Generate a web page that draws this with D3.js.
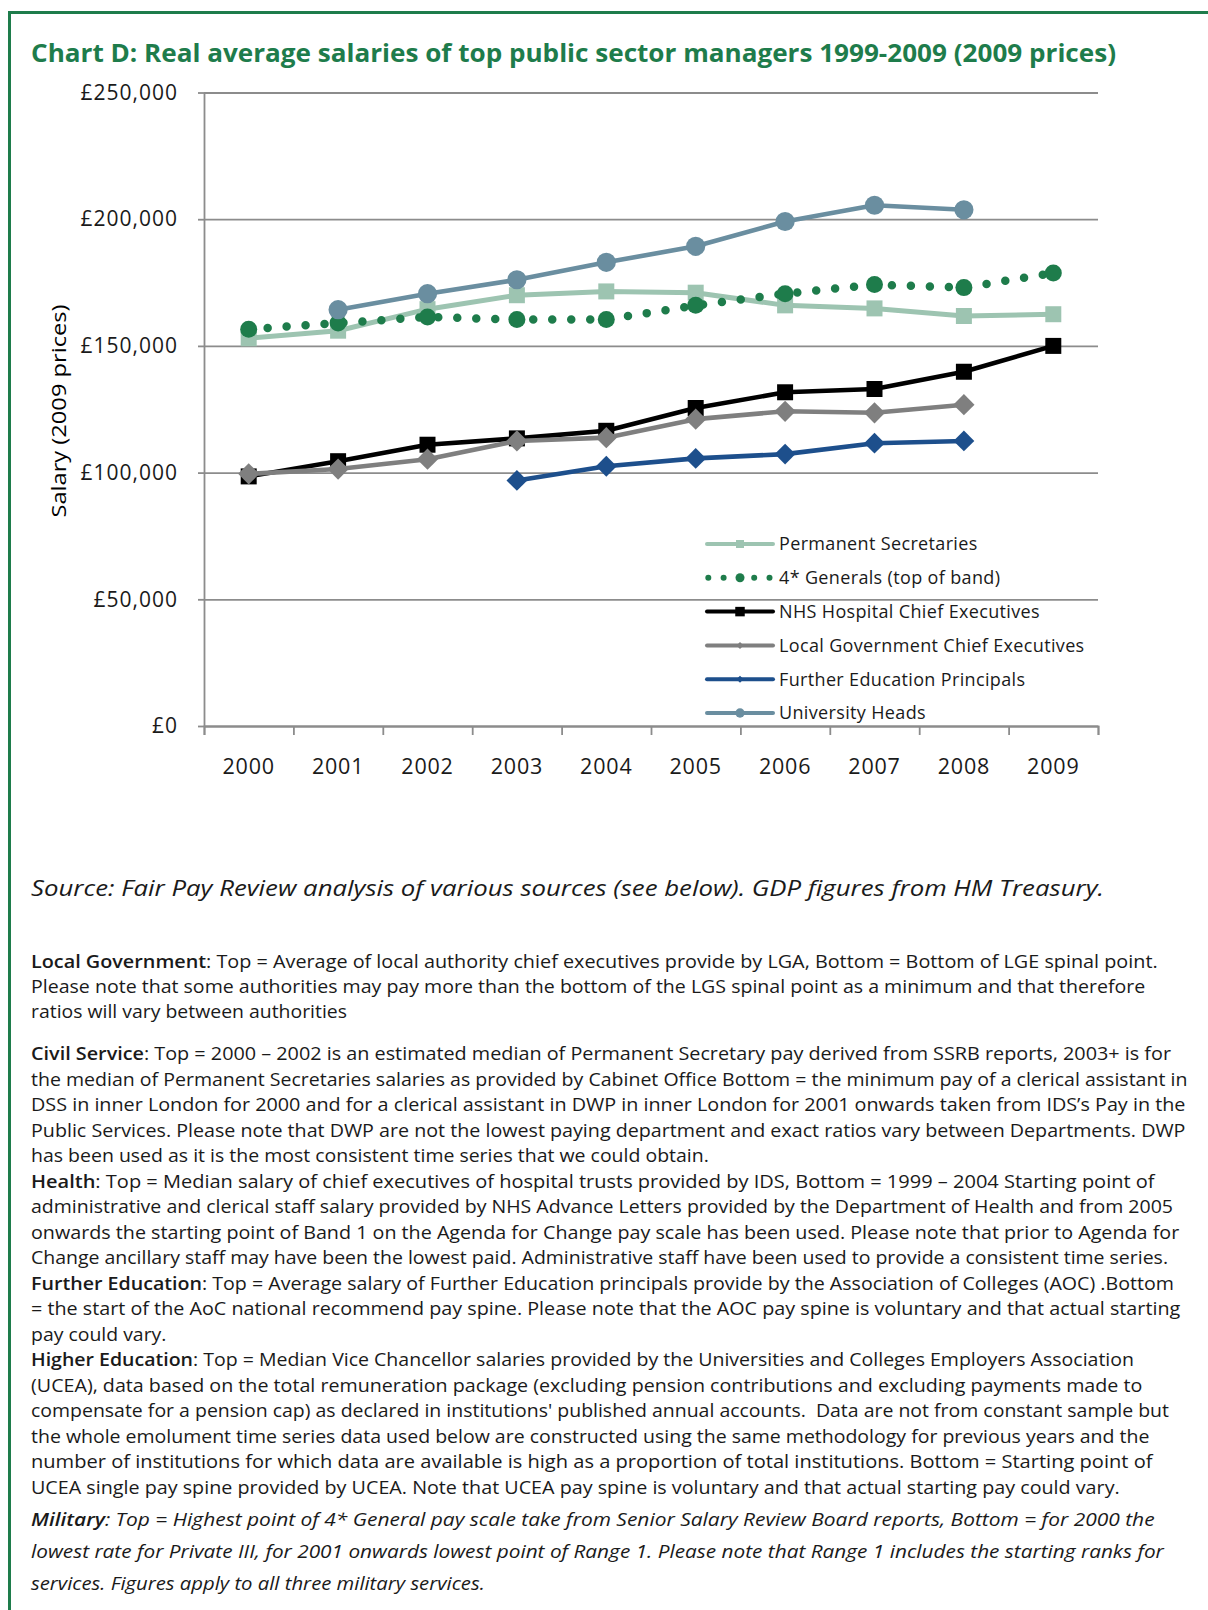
<!DOCTYPE html>
<html><head><meta charset="utf-8">
<script src="https://cdn.jsdelivr.net/npm/d3@7"></script>
<style>
html,body{margin:0;padding:0;background:#fff;}
svg{display:block;}
text{font-family:"Open Sans","Noto Sans",sans-serif;}
</style></head>
<body>
<svg id="c" width="1208" height="1610"></svg>
<script>
// ---------------- DATA ----------------
const years = [2000, 2001, 2002, 2003, 2004, 2005, 2006, 2007, 2008, 2009];
const yTicks = [0, 50000, 100000, 150000, 200000, 250000];
const seriesNames = ["Permanent Secretaries", "4* Generals (top of band)", "NHS Hospital Chief Executives",
  "Local Government Chief Executives", "Further Education Principals", "University Heads"];
const permanentSecretaries = [153000, 156000, 164500, 170000, 171500, 171000, 166000, 164800, 161800, 162500];
const generals4Star       = [156600, 159000, 161400, 160400, 160400, 166000, 170600, 174200, 173000, 178800];
const nhsChiefExecs       = [98500, 104500, 111000, 113500, 116500, 125500, 131700, 133000, 139800, 150000];
const localGovChiefExecs  = [99500, 101400, 105300, 112500, 113800, 121100, 124200, 123600, 126800, null];
const furtherEdPrincipals = [null, null, null, 96900, 102500, 105600, 107300, 111600, 112500, null];
const universityHeads     = [null, 164300, 170600, 176100, 183000, 189300, 199100, 205500, 203700, null];

const titleText = "Chart D: Real average salaries of top public sector managers 1999-2009 (2009 prices)";
const yTitleText = "Salary (2009 prices)";
const sourceText = "Source: Fair Pay Review analysis of various sources (see below). GDP figures from HM Treasury.";
const noteLines = [
  [["Local Government","b"],[": Top = Average of local authority chief executives provide by LGA, Bottom = Bottom of LGE spinal point.",""]],
  [["Please note that some authorities may pay more than the bottom of the LGS spinal point as a minimum and that therefore",""]],
  [["ratios will vary between authorities",""]],
  [["Civil Service","b"],[": Top = 2000 \u2013 2002 is an estimated median of Permanent Secretary pay derived from SSRB reports, 2003+ is for",""]],
  [["the median of Permanent Secretaries salaries as provided by Cabinet Office Bottom = the minimum pay of a clerical assistant in",""]],
  [["DSS in inner London for 2000 and for a clerical assistant in DWP in inner London for 2001 onwards taken from IDS\u2019s Pay in the",""]],
  [["Public Services. Please note that DWP are not the lowest paying department and exact ratios vary between Departments. DWP",""]],
  [["has been used as it is the most consistent time series that we could obtain.",""]],
  [["Health","b"],[": Top = Median salary of chief executives of hospital trusts provided by IDS, Bottom = 1999 \u2013 2004 Starting point of",""]],
  [["administrative and clerical staff salary provided by NHS Advance Letters provided by the Department of Health and from 2005",""]],
  [["onwards the starting point of Band 1 on the Agenda for Change pay scale has been used. Please note that prior to Agenda for",""]],
  [["Change ancillary staff may have been the lowest paid. Administrative staff have been used to provide a consistent time series.",""]],
  [["Further Education","b"],[": Top = Average salary of Further Education principals provide by the Association of Colleges (AOC) .Bottom",""]],
  [["= the start of the AoC national recommend pay spine. Please note that the AOC pay spine is voluntary and that actual starting",""]],
  [["pay could vary.",""]],
  [["Higher Education","b"],[": Top = Median Vice Chancellor salaries provided by the Universities and Colleges Employers Association",""]],
  [["(UCEA), data based on the total remuneration package (excluding pension contributions and excluding payments made to",""]],
  [["compensate for a pension cap) as declared in institutions' published annual accounts.  Data are not from constant sample but",""]],
  [["the whole emolument time series data used below are constructed using the same methodology for previous years and the",""]],
  [["number of institutions for which data are available is high as a proportion of total institutions. Bottom = Starting point of",""]],
  [["UCEA single pay spine provided by UCEA. Note that UCEA pay spine is voluntary and that actual starting pay could vary.",""]],
  [["Military","bi"],[": Top = Highest point of 4* General pay scale take from Senior Salary Review Board reports, Bottom = for 2000 the","i"]],
  [["lowest rate for Private III, for 2001 onwards lowest point of Range 1. Please note that Range 1 includes the starting ranks for","i"]],
  [["services. Figures apply to all three military services.","i"]]
];

// ---------------- LAYOUT / STYLE ----------------
const svg = d3.select("#c");
const green = "#1e7c4b";
const gridCol = "#8c8c8c";
const plot = {left: 204, right: 1098, top: 92.5, bottom: 726};

const seriesValues = [permanentSecretaries, generals4Star, nhsChiefExecs, localGovChiefExecs, furtherEdPrincipals, universityHeads];
const styles = [
  {color: "#9dc4b1", width: 5,   marker: "square",  size: 16, legSize: 8},
  {color: green,     width: 8.5, marker: "circle",  size: 8.5, legSize: 4.5, dotted: true},
  {color: "#000000", width: 4.6, marker: "square",  size: 16, legSize: 9.5},
  {color: "#7f7f7f", width: 4.6, marker: "diamond", size: 10.6, legSize: 3.5},
  {color: "#1d4f8c", width: 4.6, marker: "diamond", size: 10.4, legSize: 3.5},
  {color: "#6a8ea0", width: 4.6, marker: "circle",  size: 9.6, legSize: 4.7}
];
const series = seriesNames.map((n, i) => ({name: n, values: years.map((y, j) => ({year: y, v: seriesValues[i][j]})), st: styles[i]}));

// frame
svg.append("line").attr("x1", 9.5).attr("x2", 9.5).attr("y1", 11).attr("y2", 1610).attr("stroke", green).attr("stroke-width", 3);
svg.append("line").attr("x1", 8).attr("x2", 1208).attr("y1", 12.5).attr("y2", 12.5).attr("stroke", green).attr("stroke-width", 3);

// title
svg.append("text").attr("x", 31).attr("y", 61.5).attr("fill", green)
  .attr("font-size", 25).attr("font-weight", "bold")
  .attr("textLength", 1085).attr("lengthAdjust", "spacingAndGlyphs").text(titleText);

// scales
const x = d3.scaleBand().domain(years).range([plot.left, plot.right]).padding(0);
const xEdge = d3.scaleLinear().domain([0, years.length]).range([plot.left, plot.right]);
const y = d3.scaleLinear().domain([0, 250000]).range([plot.bottom, plot.top]);
const cx = yr => x(yr) + x.bandwidth() / 2;

// gridlines
const grid = svg.append("g").attr("transform", `translate(${plot.left},0)`)
  .call(d3.axisLeft(y).tickValues(yTicks).tickSize(-(plot.right - plot.left)).tickFormat(""));
grid.select(".domain").remove();
grid.selectAll("line").attr("stroke", gridCol).attr("stroke-width", 1.8);

// y axis
const yAx = svg.append("g").attr("transform", `translate(${plot.left},0)`)
  .call(d3.axisLeft(y).tickValues(yTicks).tickSizeInner(6).tickSizeOuter(0).tickPadding(20)
    .tickFormat(d => "\u00a3" + d3.format(",")(d)));
yAx.select(".domain").attr("stroke", gridCol).attr("stroke-width", 1.8);
yAx.selectAll("line").attr("stroke", gridCol).attr("stroke-width", 1.8);
yAx.selectAll("text").attr("font-size", 21).attr("fill", "#1a1a1a").attr("letter-spacing", "1px")
  .attr("font-family", "'Open Sans','Noto Sans',sans-serif");

// x axis ticks (at category boundaries)
const xTickAx = svg.append("g").attr("transform", `translate(0,${plot.bottom})`)
  .call(d3.axisBottom(xEdge).tickValues(d3.range(years.length + 1)).tickSize(9).tickFormat(""));
xTickAx.select(".domain").attr("stroke", gridCol).attr("stroke-width", 1.8);
xTickAx.selectAll("line").attr("stroke", gridCol).attr("stroke-width", 1.8);

// x labels
const xAx = svg.append("g").attr("transform", `translate(0,${plot.bottom})`)
  .call(d3.axisBottom(x).tickSize(0).tickPadding(33));
xAx.select(".domain").remove();
xAx.selectAll("text").attr("font-size", 21.5).attr("fill", "#1a1a1a").attr("letter-spacing", "0.8px")
  .attr("font-family", "'Open Sans','Noto Sans',sans-serif");

// y title
svg.append("text").attr("transform", "translate(59,411) rotate(-90)").attr("text-anchor", "middle")
  .attr("dy", "0.35em").attr("font-size", 20.5).attr("fill", "#000")
  .attr("textLength", 213).attr("lengthAdjust", "spacingAndGlyphs").text(yTitleText);

// symbol helper
function symbolPath(type, s) {
  if (type === "circle") return d3.symbol(d3.symbolCircle, Math.PI * s * s)();
  if (type === "square") return d3.symbol(d3.symbolSquare, s * s)();
  const side = s * Math.SQRT2; // diamond = rotated square with half-diagonal s
  return d3.symbol(d3.symbolSquare, side * side)();
}
function symbolTransform(type, px, py) {
  return type === "diamond" ? `translate(${px},${py}) rotate(45)` : `translate(${px},${py})`;
}

// lines and markers
const line = d3.line().defined(d => d.v != null).x(d => cx(d.year)).y(d => y(d.v));
series.forEach(s => {
  const g = svg.append("g");
  const p = g.append("path").datum(s.values).attr("d", line).attr("fill", "none")
    .attr("stroke", s.st.color).attr("stroke-width", s.st.width).attr("stroke-linejoin", "round");
  if (s.st.dotted) p.attr("stroke-dasharray", "0 19").attr("stroke-linecap", "round");
  g.selectAll("path.m").data(s.values.filter(d => d.v != null)).join("path").attr("class", "m")
    .attr("d", symbolPath(s.st.marker, s.st.size))
    .attr("transform", d => symbolTransform(s.st.marker, cx(d.year), y(d.v)))
    .attr("fill", s.st.color);
});

// legend
const legX0 = 707, legX1 = 773, legTx = 779, legY0 = 544, legDy = 33.8;
const leg = svg.append("g");
series.forEach((s, i) => {
  const ly = legY0 + i * legDy;
  const g = leg.append("g");
  if (s.st.dotted) {
    const dots = [0, 1, 3, 4].map(k => legX0 + 1.3 + k * 15.3);
    g.selectAll("circle").data(dots).join("circle").attr("cx", d => d).attr("cy", ly).attr("r", 3).attr("fill", s.st.color);
    g.append("path").attr("d", symbolPath("circle", s.st.legSize))
      .attr("transform", `translate(${(legX0 + legX1) / 2},${ly})`).attr("fill", s.st.color);
  } else {
    g.append("line").attr("x1", legX0).attr("x2", legX1).attr("y1", ly).attr("y2", ly)
      .attr("stroke", s.st.color).attr("stroke-width", 4).attr("stroke-linecap", "round");
    g.append("path").attr("d", symbolPath(s.st.marker, s.st.legSize))
      .attr("transform", symbolTransform(s.st.marker, (legX0 + legX1) / 2, ly)).attr("fill", s.st.color);
  }
  g.append("text").attr("x", legTx).attr("y", ly).attr("dy", "0.35em").attr("font-size", 18)
    .attr("letter-spacing", "0.35px").attr("fill", "#1a1a1a").text(s.name);
});

// source
svg.append("text").attr("x", 31).attr("y", 896).attr("font-size", 22).attr("font-style", "italic")
  .attr("fill", "#1a1a1a").attr("textLength", 1073).attr("lengthAdjust", "spacingAndGlyphs").text(sourceText);

// notes
const lineEnds = [1157.7, 1145.3, 347, 1171, 1187.4, 1185.4, 1185.4, 708.8, 1154.6, 1173, 1179.2, 1168,
  1174, 1180.3, 166.4, 1134, 1142.3, 1169, 1149.4, 1152.5, 1119.7, 1154.6, 1163.8, 484.8];
function noteY(i) {
  if (i < 3) return 967.5 + i * 25.4;
  if (i < 21) return 1060 + (i - 3) * 25.5;
  return 1525.5 + (i - 21) * 32;
}
noteLines.forEach((runs, i) => {
  const t = svg.append("text").attr("x", 31).attr("y", noteY(i)).attr("font-size", 18.3).attr("fill", "#1a1a1a")
    .attr("textLength", lineEnds[i] - 31).attr("lengthAdjust", "spacingAndGlyphs");
  runs.forEach(([txt, st]) => {
    t.append("tspan").text(txt)
      .attr("font-weight", st.includes("b") ? "600" : null)
      .attr("font-style", st.includes("i") ? "italic" : null)
      .attr("xml:space", "preserve");
  });
});
</script>
</body></html>
